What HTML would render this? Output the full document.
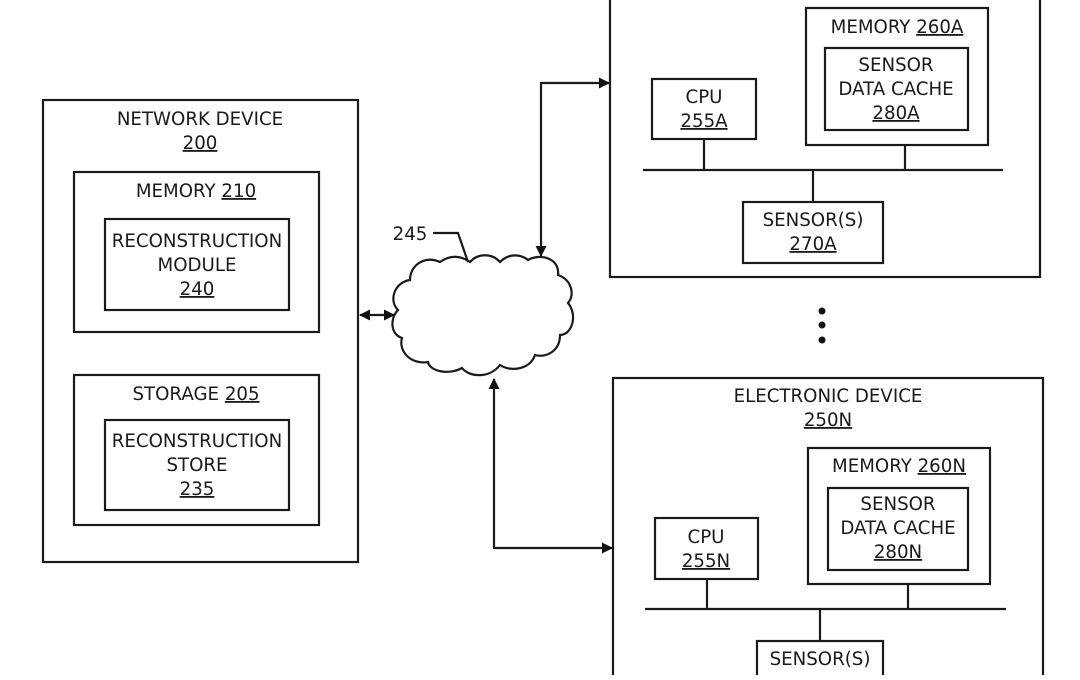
<!DOCTYPE html>
<html><head><meta charset="utf-8"><style>
html,body{margin:0;padding:0;background:#fff;}
svg text{font-family:"DejaVu Sans","Liberation Sans",sans-serif;font-size:18.2px;fill:#1a1a1a;text-anchor:middle;}
.u{text-decoration:underline;}
</style></head><body>
<svg width="1080" height="675" viewBox="0 0 1080 675" xmlns="http://www.w3.org/2000/svg">
<defs><marker id="a" markerWidth="11" markerHeight="11" refX="10" refY="5.5" orient="auto-start-reverse" markerUnits="userSpaceOnUse"><path d="M0,0 L11,5.5 L0,11 z" fill="#111"/></marker></defs>
<g fill="none" stroke="#1a1a1a" stroke-width="2.2">
<rect x="43" y="100" width="315" height="462"/>
<rect x="74" y="172" width="245" height="160"/>
<rect x="105" y="219" width="184" height="91"/>
<rect x="74" y="375" width="245" height="150"/>
<rect x="105" y="420" width="184" height="90"/>
<rect x="610" y="-5" width="430" height="282"/>
<rect x="806" y="8" width="182" height="137"/>
<rect x="825" y="48" width="143" height="82"/>
<rect x="652" y="79" width="104" height="60"/>
<line x1="643" y1="170" x2="1003" y2="170"/>
<line x1="704" y1="139" x2="704" y2="171"/>
<line x1="905" y1="145" x2="905" y2="170"/>
<line x1="813" y1="170" x2="813" y2="202"/>
<rect x="743" y="202" width="140" height="61"/>
<rect x="613" y="378" width="430" height="310"/>
<rect x="808" y="448" width="182" height="136"/>
<rect x="828" y="488" width="140" height="82"/>
<rect x="655" y="518" width="103" height="61"/>
<line x1="645" y1="609" x2="1006" y2="609"/>
<line x1="707" y1="579" x2="707" y2="610"/>
<line x1="908" y1="584" x2="908" y2="609"/>
<line x1="820" y1="609" x2="820" y2="641"/>
<rect x="757" y="641" width="126" height="60"/>
<line x1="360" y1="315" x2="394" y2="315" marker-start="url(#a)" marker-end="url(#a)"/>
<polyline points="541,256 541,83 609,83" marker-start="url(#a)" marker-end="url(#a)"/>
<polyline points="494,379 494,548 612,548" marker-start="url(#a)" marker-end="url(#a)"/>
<polyline points="433,233 458,233 468,262"/>
<path d="M398,310 C388,300 395,282 410,280 C410,265 425,255 440,262 C450,255 460,255 470,262 C478,253 492,253 500,262 C510,252 522,255 528,260 C540,253 560,258 558,275 C572,280 575,295 568,303 C578,315 572,335 560,335 C560,352 545,358 535,355 C530,370 510,372 500,365 C490,378 470,378 462,368 C450,375 430,372 428,362 C412,365 398,352 402,338 C390,334 390,318 398,310 Z"/>
</g>
<circle cx="822" cy="311" r="3.5" fill="#111"/><circle cx="822" cy="325" r="3.5" fill="#111"/><circle cx="822" cy="340" r="3.5" fill="#111"/>
<text x="410" y="240">245</text>
<text x="200" y="125">NETWORK DEVICE</text><text x="200" y="149" class="u">200</text>
<text x="196" y="197">MEMORY <tspan class="u">210</tspan></text>
<text x="197" y="247">RECONSTRUCTION</text><text x="197" y="271">MODULE</text><text x="197" y="295" class="u">240</text>
<text x="196" y="400">STORAGE <tspan class="u">205</tspan></text>
<text x="197" y="447">RECONSTRUCTION</text><text x="197" y="471">STORE</text><text x="197" y="495" class="u">235</text>
<text x="897" y="33">MEMORY <tspan class="u">260A</tspan></text>
<text x="896" y="71">SENSOR</text><text x="896" y="95">DATA CACHE</text><text x="896" y="119" class="u">280A</text>
<text x="704" y="103">CPU</text><text x="704" y="127" class="u">255A</text>
<text x="813" y="226">SENSOR(S)</text><text x="813" y="250" class="u">270A</text>
<text x="828" y="402">ELECTRONIC DEVICE</text><text x="828" y="426" class="u">250N</text>
<text x="899" y="472">MEMORY <tspan class="u">260N</tspan></text>
<text x="898" y="510">SENSOR</text><text x="898" y="534">DATA CACHE</text><text x="898" y="558" class="u">280N</text>
<text x="706" y="543">CPU</text><text x="706" y="567" class="u">255N</text>
<text x="820" y="665">SENSOR(S)</text>
</svg>
</body></html>
